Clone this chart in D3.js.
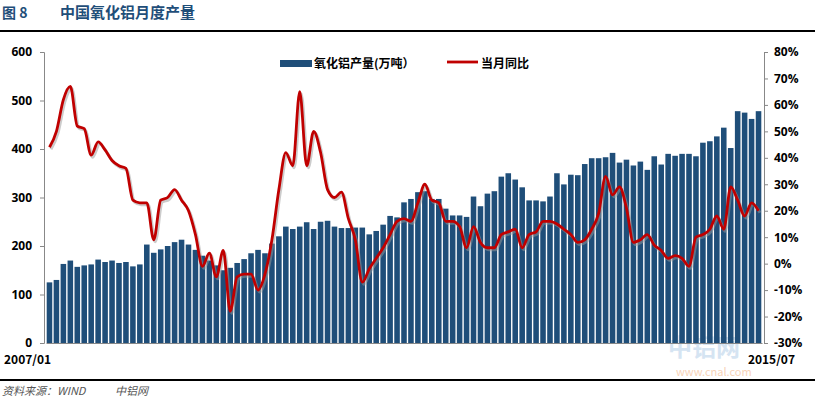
<!DOCTYPE html>
<html><head><meta charset="utf-8">
<script src="https://cdn.jsdelivr.net/npm/d3@7"></script>
<style>body{margin:0;background:#fff}svg{display:block;font-family:"Noto Sans CJK SC","Open Sans",sans-serif}</style>
</head><body><svg id="c" width="815" height="401"></svg>
<script>
const production = [125,130,163,170,157,160,162,172,167,170,165,167,
158,162,203,186,193,200,208,213,203,192,180,170,
160,150,155,165,173,185,192,185,205,220,240,235,
240,249,235,250,252,240,237,237,238,238,224,231,
244,262,259,290,297,311,313,297,297,277,263,263,
260,302,282,308,313,343,350,337,321,294,294,292,
302,350,327,347,346,369,381,381,383,392,372,378,
366,374,357,385,368,390,386,390,390,385,413,416,
426,444,402,478,475,462,478,463];
const yoy = [44,50,62,67,52,51,41,46,43,39,37,36,
24,23,23,9,24,25,28,24,20,11,-1,4,
-5,5,-18,-5,-4,-4,-10,-4,9,28,42,37,
65,37,50,42,28,25,27,17,9,-7,-2,2,
6,11,16,17,16,23,30,24,23,16,16,14,
6,14,8,6,6,11,12,13,6,11,12,16,
16,15,13,11,8,9,13,19,33,26,29,21,
8,9,11,7,5,2,3,2,-1,10,11,13,
18,13,29,24,18,23,20];
const leftTicks = [0,100,200,300,400,500,600];
const rightTicks = [-30,-20,-10,0,10,20,30,40,50,60,70,80];
const xLabels = ["2007/01","2015/07"];
const n = Math.min(production.length, yoy.length);
const svg = d3.select("#c");
const L=44,R=764,T=52,B=343;
const x = d3.scaleBand().domain(d3.range(n)).range([L+2,R-2]).paddingInner(0.2).paddingOuter(0.1);
const yL = d3.scaleLinear().domain([0,600]).range([B,T]);
const yR = d3.scaleLinear().domain([-30,80]).range([B,T]);
const blue="#1f4e79";
// header
svg.append("text").attr("x",2).attr("y",18).attr("fill",blue).attr("font-weight","bold").attr("font-size",14).text("图 8");
svg.append("text").attr("x",60).attr("y",18).attr("fill",blue).attr("font-weight","bold").attr("font-size",15).text("中国氧化铝月度产量");
svg.append("line").attr("x1",0).attr("x2",815).attr("y1",31).attr("y2",31).attr("stroke","#000").attr("stroke-width",2);
svg.append("line").attr("x1",0).attr("x2",815).attr("y1",380).attr("y2",380).attr("stroke","#000").attr("stroke-width",2);
svg.append("text").attr("x",2).attr("y",395).attr("fill","#555").attr("font-size",11).attr("font-style","italic").text("资料来源：WIND");
svg.append("text").attr("x",115).attr("y",395).attr("fill","#555").attr("font-size",11).attr("font-style","italic").text("中铝网");
// watermark
svg.append("text").attr("x",668).attr("y",356).attr("fill","#d5e4f2").attr("font-size",24).attr("font-weight","bold").text("中铝网");
svg.append("text").attr("x",676).attr("y",376).attr("fill","#f7d3b8").attr("font-size",11).text("www.cnal.com");
// bars
svg.append("g").selectAll("rect").data(production.slice(0,n)).join("rect")
 .attr("x",(d,i)=>x(i)).attr("width",x.bandwidth()).attr("y",d=>yL(d)).attr("height",d=>B-yL(d)).attr("fill",blue);
// line
const line=d3.line().x((d,i)=>x(i)+x.bandwidth()/2).y(d=>yR(d)).curve(d3.curveMonotoneX);
svg.append("path").datum(yoy.slice(0,n)).attr("d",line).attr("fill","none").attr("stroke","#999").attr("stroke-opacity",0.5).attr("stroke-width",3).attr("transform","translate(1.5,2)");
svg.append("path").datum(yoy.slice(0,n)).attr("d",line).attr("fill","none").attr("stroke","#c00000").attr("stroke-width",2.8);
// axes
const aL=svg.append("g").attr("transform",`translate(${L},0)`).call(d3.axisLeft(yL).tickValues(leftTicks).tickSize(4).tickPadding(8));
const aR=svg.append("g").attr("transform",`translate(${R},0)`).call(d3.axisRight(yR).tickValues(rightTicks).tickSize(4).tickPadding(6).tickFormat(d=>d+"%"));
const aB=svg.append("g").attr("transform",`translate(0,${B})`).call(d3.axisBottom(x).tickValues([]).tickSize(0));
[aL,aR,aB].forEach(a=>{a.selectAll("path,line").attr("stroke","#888");a.selectAll("text").attr("font-size",12).attr("font-weight","bold").attr("fill","#000").attr("font-family","'Open Sans',sans-serif");});
svg.append("text").attr("x",4).attr("y",364).attr("font-size",12).attr("font-weight","bold").text(xLabels[0]);
svg.append("text").attr("x",795).attr("y",364).attr("text-anchor","end").attr("font-size",12).attr("font-weight","bold").text(xLabels[1]);
// legend
svg.append("rect").attr("x",280).attr("y",60).attr("width",32).attr("height",7).attr("fill",blue);
svg.append("text").attr("x",314).attr("y",68).attr("font-size",12).attr("font-weight","bold").text("氧化铝产量(万吨）");
svg.append("line").attr("x1",447).attr("x2",478).attr("y1",62).attr("y2",62).attr("stroke","#c00000").attr("stroke-width",2.8);
svg.append("text").attr("x",481).attr("y",68).attr("font-size",12).attr("font-weight","bold").text("当月同比");
</script></body></html>
